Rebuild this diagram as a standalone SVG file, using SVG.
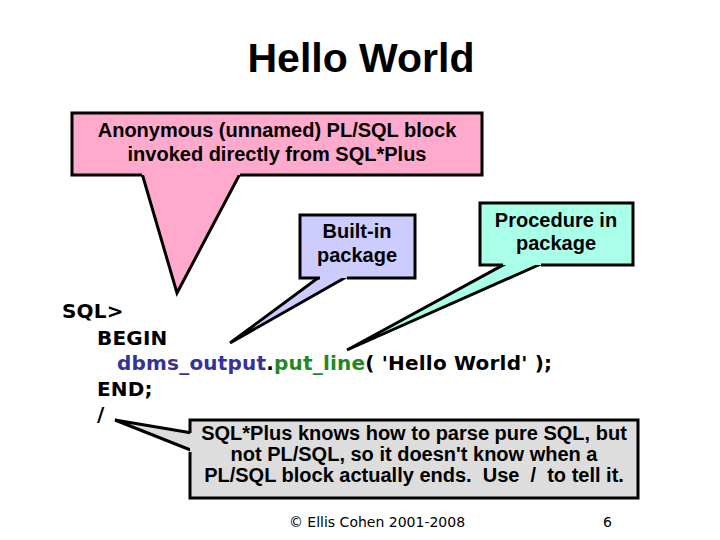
<svg xmlns="http://www.w3.org/2000/svg" width="720" height="540" viewBox="0 0 720 540">
<style>
.title{font-family:"Liberation Sans",Arial,sans-serif;font-weight:bold;font-size:41px;fill:#000}
.lbl{font-family:"Liberation Sans",Arial,sans-serif;font-weight:bold;font-size:20px;fill:#000;text-anchor:middle;white-space:pre}
.code{font-family:"DejaVu Sans",Verdana,sans-serif;font-weight:bold;font-size:20px;letter-spacing:0.2px;fill:#000}
.foot{font-family:"DejaVu Sans",Verdana,sans-serif;font-size:14px;fill:#000}
.edge{fill:none;stroke:#000;stroke-width:3;stroke-linejoin:miter}
.tail{stroke:#000;stroke-width:3;stroke-linejoin:miter}
</style>
<rect width="720" height="540" fill="#fff"/>
<text class="title" x="361" y="72" text-anchor="middle">Hello World</text>

<g id="code">
<text class="code" x="62" y="318">SQL&gt;</text>
<text class="code" x="97" y="345">BEGIN</text>
<text class="code" x="117" y="370"><tspan fill="#333399">dbms_output</tspan>.<tspan fill="#228822">put_line</tspan>( 'Hello World' );</text>
<text class="code" x="97" y="396">END;</text>
<text class="code" x="97" y="421">/</text>
</g>

<g id="connectors">
<polygon class="tail" points="141,170 177,293 242,170" fill="#FFAACC"/>
<polygon class="tail" points="326,272 230,343 355,272" fill="#CCCCFF"/>
<polygon class="tail" points="514,259 347,350 552,259" fill="#AAFFE8"/>
<polygon class="tail" points="198,434 115,420 198,453" fill="#DDDDDD"/>
</g>

<g id="anon">
<rect x="72" y="113" width="410" height="62" fill="#FFAACC"/>
<path class="edge" d="M240,175 H482 V113 H72 V175 H142"/>
<text class="lbl" x="277" y="137">Anonymous (unnamed) PL/SQL block</text>
<text class="lbl" x="277" y="161">invoked directly from SQL*Plus</text>
</g>

<g id="builtin">
<rect x="300" y="215" width="115" height="63" fill="#CCCCFF"/>
<path class="edge" d="M347,278 H415 V215 H300 V278 H320"/>
<text class="lbl" x="357" y="238">Built-in</text>
<text class="lbl" x="357" y="262">package</text>
</g>

<g id="procedure">
<rect x="480" y="203" width="153" height="62" fill="#AAFFE8"/>
<path class="edge" d="M541,265 H633 V203 H480 V265 H503"/>
<text class="lbl" x="556" y="227">Procedure in</text>
<text class="lbl" x="556" y="250">package</text>
</g>

<g id="note">
<rect x="190" y="420" width="448" height="78" fill="#DDDDDD"/>
<path class="edge" d="M190,433 V420 H638 V498 H190 V452"/>
<text class="lbl" x="414" y="440">SQL*Plus knows how to parse pure SQL, but</text>
<text class="lbl" x="414" y="461">not PL/SQL, so it doesn't know when a</text>
<text class="lbl" x="414" y="482" xml:space="preserve">PL/SQL block actually ends.  Use  /  to tell it.</text>
</g>

<text class="foot" x="377" y="527" text-anchor="middle">© Ellis Cohen 2001-2008</text>
<text class="foot" x="603" y="527">6</text>
</svg>
